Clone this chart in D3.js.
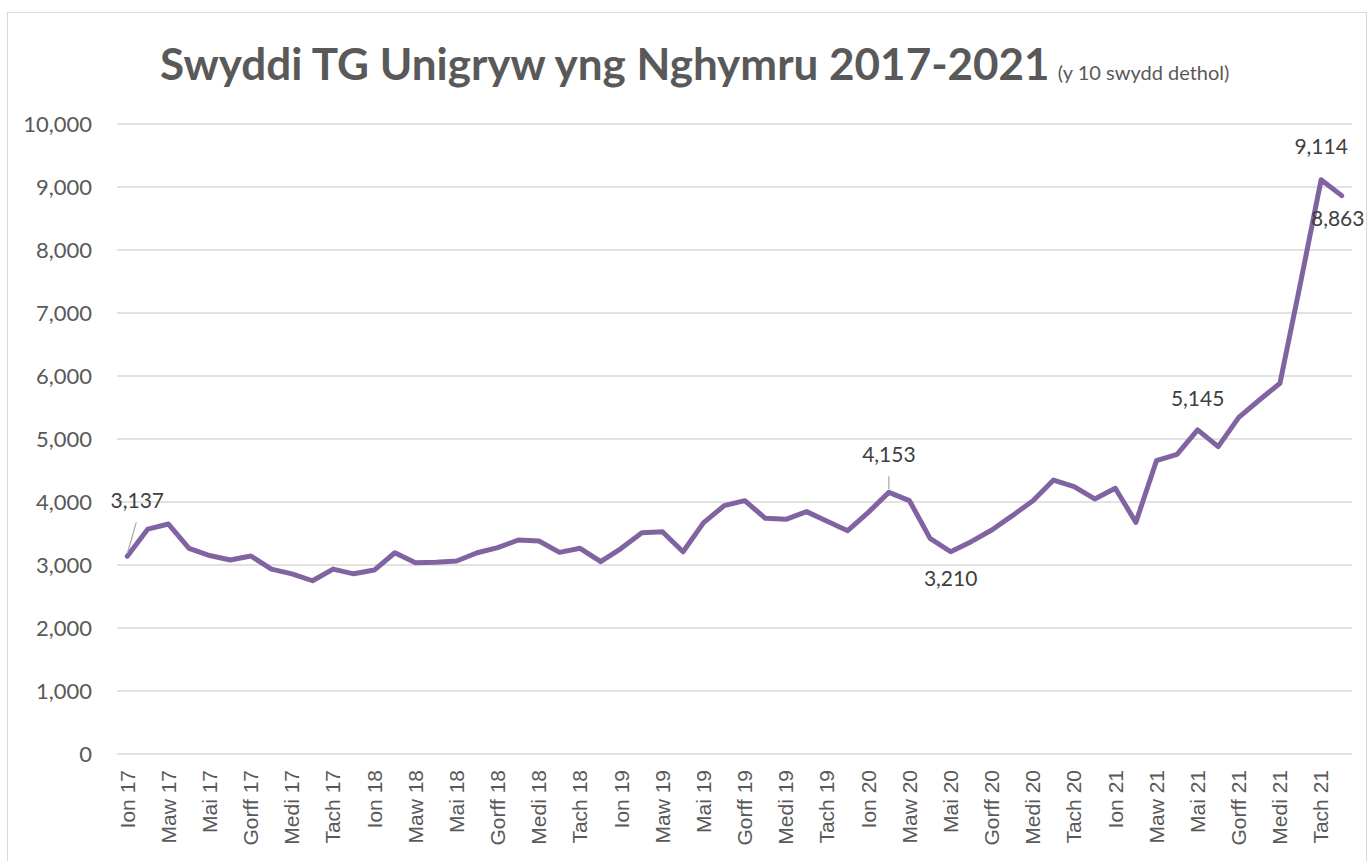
<!DOCTYPE html>
<html>
<head>
<meta charset="utf-8">
<script src="https://cdn.jsdelivr.net/npm/d3@7"></script>
<style>
  body { margin: 0; background: #fff; }
  svg { display: block; }
  .grid line { stroke: #d9d9d9; stroke-width: 1.3; }
  .y-axis text { fill: #595959; font-family: Lato, "Open Sans", sans-serif; font-size: 22px; }
  .x-axis text { fill: #595959; font-family: "Liberation Sans", Arial, sans-serif; font-size: 21px; }
  .lbl { fill: #404040; font-family: Lato, "Open Sans", sans-serif; font-size: 21px; }
</style>
</head>
<body>
<svg id="chart"></svg>
<script>
// misoedd, Ion 2017 - Rhag 2021
const months = ["Ion", "Chwef", "Maw", "Ebr", "Mai", "Meh", "Gorff", "Awst", "Medi", "Hyd", "Tach", "Rhag"];
const years = ["17", "18", "19", "20", "21"];
const categories = years.flatMap(y => months.map(m => `${m} ${y}`));

// swyddi unigryw bob mis (wedi'u darllen o'r graff)
const jobs = [
  3137, 3570, 3650, 3265, 3150, 3080, 3143, 2935, 2860, 2750, 2935, 2860,
  2920, 3195, 3037, 3043, 3063, 3195, 3275, 3397, 3381, 3201, 3265, 3053,
  3265, 3513, 3529, 3211, 3672, 3942, 4021, 3741, 3725, 3847, 3695, 3545,
  3836, 4153, 4021, 3423, 3210, 3370, 3556, 3783, 4021, 4349, 4243, 4048,
  4217, 3677, 4656, 4757, 5145, 4878, 5344, 5619, 5884, 7480, 9114, 8863
];

// pwyntiau sydd â label data
const labelled = [0, 37, 40, 52, 58, 59];
const yTicks = [0, 1000, 2000, 3000, 4000, 5000, 6000, 7000, 8000, 9000, 10000];

const W = 1367, H = 861;
const mLeft = 117, mRight = 1352, mTop = 124, mBottom = 754;

const svg = d3.select("#chart").attr("width", W).attr("height", H);

// ffrâm y siart
svg.append("rect")
  .attr("x", 7.5).attr("y", 12.5)
  .attr("width", W - 8).attr("height", H)
  .attr("fill", "#fff").attr("stroke", "#d9d9d9");

const x = d3.scaleBand().domain(categories).range([mLeft, mRight]);
const y = d3.scaleLinear().domain([0, 10000]).range([mBottom, mTop]);

// llinellau grid
svg.append("g").attr("class", "grid")
  .selectAll("line").data(yTicks).join("line")
  .attr("x1", mLeft).attr("x2", mRight)
  .attr("y1", d => y(d)).attr("y2", d => y(d));

// echelin Y
const axisY = d3.axisLeft(y).tickValues(yTicks).tickFormat(d3.format(",")).tickSize(0).tickPadding(25);
svg.append("g").attr("class", "y-axis")
  .attr("transform", `translate(${mLeft},0)`)
  .call(axisY)
  .call(g => g.select(".domain").remove())
  .selectAll("text").attr("dy", "0.35em");

// echelin X - label bob yn ail fis
const axisX = d3.axisBottom(x)
  .tickValues(categories.filter((d, i) => i % 2 === 0))
  .tickSize(0).tickPadding(0);
svg.append("g").attr("class", "x-axis")
  .attr("transform", `translate(0,${mBottom})`)
  .call(axisX)
  .call(g => g.select(".domain").remove())
  .selectAll("text")
  .attr("transform", "rotate(-90)")
  .style("text-anchor", "end")
  .attr("x", -16)
  .attr("y", 0)
  .attr("dy", "0.35em");

const cx = i => x(categories[i]) + x.bandwidth() / 2;

// y llinell
const line = d3.line()
  .x((d, i) => cx(i))
  .y(d => y(d));

svg.append("path")
  .datum(jobs)
  .attr("fill", "none")
  .attr("stroke", "#8064a2")
  .attr("stroke-width", 5)
  .attr("stroke-linejoin", "round")
  .attr("stroke-linecap", "round")
  .attr("d", line);

// labeli data: safle o'i gymharu â'r pwynt
const offsets = {
  0: { dx: 10, dy: -48, anchor: "middle", leader: true },
  37: { dx: 0, dy: -30, anchor: "middle", leader: true },
  40: { dx: 0, dy: 34, anchor: "middle" },
  52: { dx: 0, dy: -24, anchor: "middle" },
  58: { dx: 0, dy: -26, anchor: "middle" },
  59: { dx: -4, dy: 30, anchor: "middle" }
};

const fmt = d3.format(",");
labelled.forEach(i => {
  const o = offsets[i];
  const px = cx(i), py = y(jobs[i]);
  if (o.leader) {
    svg.append("line")
      .attr("x1", px).attr("y1", py - 3)
      .attr("x2", px + o.dx * 0.9).attr("y2", py + o.dy + 14)
      .attr("stroke", "#a6a6a6").attr("stroke-width", 1.2);
  }
  svg.append("text").attr("class", "lbl")
    .attr("x", px + o.dx).attr("y", py + o.dy)
    .attr("text-anchor", o.anchor)
    .text(fmt(jobs[i]));
});

// teitl
const title = svg.append("text")
  .attr("x", 160).attr("y", 80)
  .attr("fill", "#595959")
  .style("font-family", "Lato, 'Open Sans', sans-serif");
title.append("tspan").attr("font-weight", "bold").attr("font-size", 44)
  .text("Swyddi TG Unigryw yng Nghymru 2017-2021");
title.append("tspan").attr("font-size", 20).attr("dx", 8)
  .text("(y 10 swydd dethol)");
</script>
</body>
</html>
